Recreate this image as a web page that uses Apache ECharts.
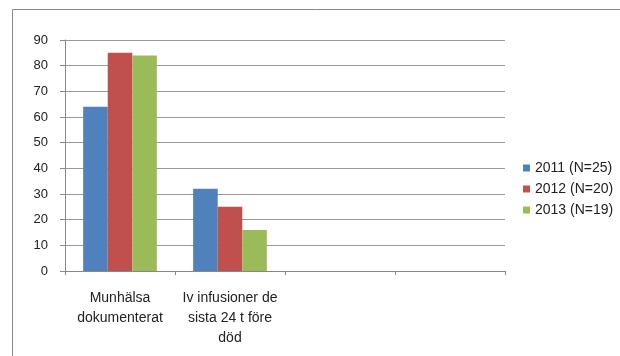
<!DOCTYPE html>
<html><head><meta charset="utf-8">
<script src="https://cdn.jsdelivr.net/npm/echarts@6/dist/echarts.min.js"></script>
<style>html,body{margin:0;padding:0;background:#fff}#c{width:620px;height:356px}</style>
</head><body><div id="c"></div>
<script>
const categories = ['Munhälsa\ndokumenterat', 'Iv infusioner de\nsista 24 t före\ndöd', '', ''];
const seriesNames = ['2011 (N=25)', '2012 (N=20)', '2013 (N=19)'];
const values2011 = [64, 32, null, null];
const values2012 = [85, 25, null, null];
const values2013 = [84, 16, null, null];
const yTicks = [0, 10, 20, 30, 40, 50, 60, 70, 80, 90];

const colors = ['#4F81BD', '#C0504D', '#9BBB59'];
const font = 'Liberation Sans';
const chart = echarts.init(document.getElementById('c'), null, {renderer: 'canvas'});
chart.setOption({
  animation: false,
  color: colors,
  textStyle: {fontFamily: font},
  graphic: [{type: 'rect', shape: {x: 12.5, y: 9.5, width: 700, height: 400}, style: {fill: 'none', stroke: '#8a8a8a', lineWidth: 1}, z: -1}],
  grid: {left: 65, right: 115, top: 40, bottom: 85},
  legend: {
    orient: 'vertical', left: 518, top: 156, itemWidth: 7, itemHeight: 7, itemGap: 7,
    icon: 'rect',
    textStyle: {fontFamily: font, fontSize: 14, color: '#222'},
    data: seriesNames
  },
  xAxis: {
    type: 'category', data: categories,
    axisLine: {lineStyle: {color: '#888'}},
    axisTick: {show: true, length: 4, lineStyle: {color: '#888'}},
    axisLabel: {interval: 0, fontFamily: font, fontSize: 14, color: '#222', lineHeight: 20, margin: 17}
  },
  yAxis: {
    type: 'value', min: yTicks[0], max: yTicks[yTicks.length - 1], interval: 10,
    axisLine: {show: true, lineStyle: {color: '#888'}},
    axisTick: {show: true, length: 5, lineStyle: {color: '#888'}},
    splitLine: {lineStyle: {color: '#999'}},
    axisLabel: {fontFamily: font, fontSize: 13, color: '#222', margin: 17}
  },
  series: [
    {name: seriesNames[0], type: 'bar', data: values2011, barGap: '0%', barCategoryGap: '33%'},
    {name: seriesNames[1], type: 'bar', data: values2012, barGap: '0%', barCategoryGap: '33%'},
    {name: seriesNames[2], type: 'bar', data: values2013, barGap: '0%', barCategoryGap: '33%'}
  ]
});
</script></body></html>
